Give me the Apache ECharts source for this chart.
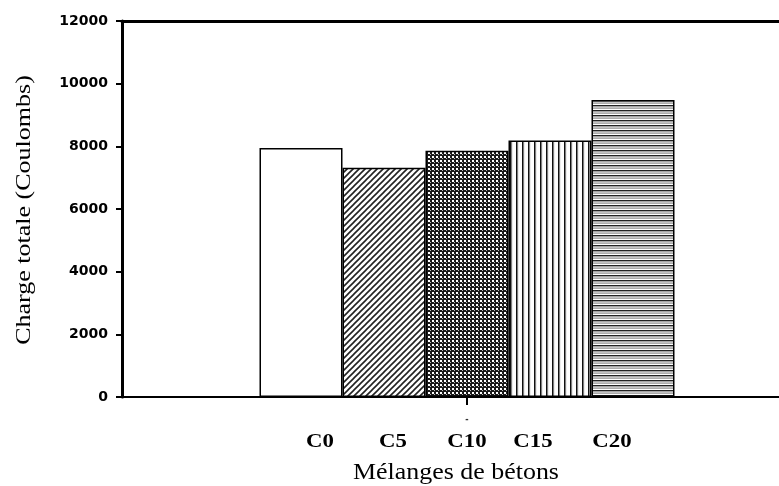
<!DOCTYPE html>
<html>
<head>
<meta charset="utf-8">
<script src="https://cdn.jsdelivr.net/npm/echarts@6/dist/echarts.min.js"></script>
<style>
	html, body { margin: 0; padding: 0; background: #fff; }
	#chart { width: 779px; height: 486px; }
</style>
</head>
<body>
<div id="chart"></div>
<script>
// data
const mixtures = ["C0", "C5", "C10", "C15", "C20"];
const charges = [7950, 7320, 7860, 8190, 9480];
const yTicks = [0, 2000, 4000, 6000, 8000, 10000, 12000];
const labelX = [320, 393, 467, 533, 612];

// small canvas tiles for the hatch fills
function tile(w, h, draw) {
	let c = document.createElement("canvas");
	c.width = w;
	c.height = h;
	let ctx = c.getContext("2d");
	ctx.fillStyle = "#fff";
	ctx.fillRect(0, 0, w, h);
	draw(ctx);
	return { image: c, repeat: "repeat" };
}
const fills = [
	"#ffffff",
	tile(6, 6, function(ctx) {
		ctx.strokeStyle = "#222";
		ctx.lineWidth = 1.6;
		ctx.beginPath();
		ctx.moveTo(-1, 7); ctx.lineTo(7, -1);
		ctx.moveTo(-1, 1); ctx.lineTo(1, -1);
		ctx.moveTo(5, 7); ctx.lineTo(7, 5);
		ctx.stroke();
	}),
	tile(4, 4, function(ctx) {
		ctx.fillStyle = "#1a1a1a";
		ctx.fillRect(0, 0, 4, 4);
		ctx.fillStyle = "#fff";
		ctx.fillRect(0, 0, 2, 2);
		ctx.fillStyle = "#bbb";
		ctx.fillRect(2, 2, 1, 1);
	}),
	tile(6, 6, function(ctx) {
		ctx.fillStyle = "#111";
		ctx.fillRect(0, 0, 1.6, 6);
		ctx.fillStyle = "#999";
		ctx.fillRect(1.6, 0, 0.6, 6);
	}),
	tile(6, 5, function(ctx) {
		ctx.fillStyle = "#222";
		ctx.fillRect(0, 0, 6, 1.4);
		ctx.fillStyle = "#888";
		ctx.fillRect(0, 2.5, 6, 1.2);
	})
];

let series = [];
for (let i = 0; i < mixtures.length; i++) {
	series.push({
		name: mixtures[i],
		type: "bar",
		data: [charges[i]],
		barWidth: 83,
		barGap: "0%",
		xAxisIndex: 0,
		itemStyle: {
			color: fills[i],
			borderColor: "#000",
			borderWidth: 1.5
		}
	});
}

let graphics = [];
for (let i = 0; i < mixtures.length; i++) {
	graphics.push({
		type: "text",
		x: labelX[i],
		y: 442,
		scaleX: 1.2,
		style: {
			text: mixtures[i],
			font: "bold 19px 'Liberation Serif'",
			fill: "#000",
			align: "center",
			verticalAlign: "middle"
		}
	});
}
graphics.push({
	type: "text",
	x: 456,
	y: 473,
	scaleX: 1.08,
	style: {
		text: "Mélanges de bétons",
		font: "24px 'Liberation Serif'",
		fill: "#000",
		align: "center",
		verticalAlign: "middle"
	}
});
graphics.push({
	type: "text",
	x: 25,
	y: 210,
	rotation: Math.PI / 2,
	scaleX: 1.3,
	style: {
		text: "Charge totale (Coulombs)",
		font: "20px 'Liberation Serif'",
		fill: "#000",
		align: "center",
		verticalAlign: "middle"
	}
});

let option = {
	animation: false,
	backgroundColor: "#ffffff",
	grid: {
		left: 122,
		top: 21,
		bottom: 89,
		width: 690,
		outerBoundsMode: "none",
		containLabel: false
	},
	xAxis: [
		{
			type: "category",
			data: ["-"],
			z: 5,
			axisLine: { lineStyle: { color: "#000", width: 2 } },
			axisTick: { show: true, interval: 0, alignWithLabel: true, length: 8, lineStyle: { color: "#000", width: 2 } },
			axisLabel: { color: "#333", fontSize: 10, fontWeight: "bold", margin: 17 }
		},
		{
			type: "category",
			position: "top",
			data: ["-"],
			axisLine: { lineStyle: { color: "#000", width: 3 } },
			axisTick: { show: false },
			axisLabel: { show: false }
		}
	],
	yAxis: {
		type: "value",
		min: yTicks[0],
		max: yTicks[yTicks.length - 1],
		interval: 2000,
		axisLine: { show: true, lineStyle: { color: "#000", width: 3 } },
		axisTick: { show: true, length: 6, lineStyle: { color: "#000", width: 2 } },
		axisLabel: {
			fontFamily: "DejaVu Sans",
			fontWeight: "bold",
			fontSize: 14,
			color: "#000",
			margin: 14,
			formatter: function(v) { return String(v); }
		},
		splitLine: { show: false }
	},
	graphic: graphics,
	series: series
};

let chart = echarts.init(document.getElementById("chart"));
chart.setOption(option);
</script>
</body>
</html>
